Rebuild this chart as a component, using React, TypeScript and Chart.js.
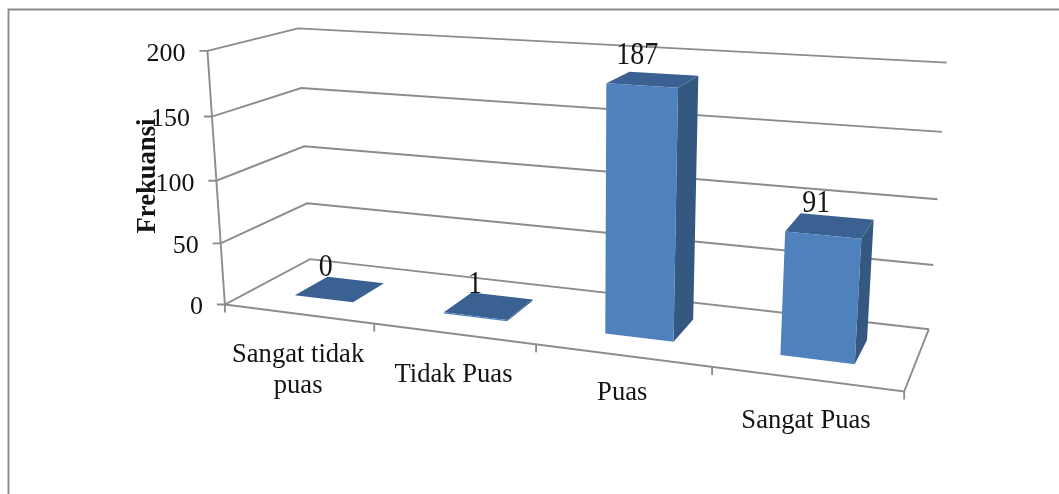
import React, { useEffect, useRef } from "react";
import { Chart, registerables } from "chart.js";

Chart.register(...registerables);

const categories = [["Sangat tidak", "puas"], ["Tidak Puas"], ["Puas"], ["Sangat Puas"]];
const frequencies = [0, 1, 187, 91];
const axisTitle = "Frekuansi";
const axisMax = 200;
const axisStep = 50;

// Screen positions of the 3D box corners, as [u, height, depth] -> [x, y].
const boxCorners: [number, number, number, number, number][] = [
  [0, 0, 0, 225, 304.7],
  [1, 0, 0, 904, 391.7],
  [0, 0, 1, 310, 259],
  [1, 0, 1, 929, 329],
  [0, 1, 0, 207.5, 50.5],
  [0, 1, 1, 298, 28.7],
  [1, 1, 1, 946.7, 62.7],
];

const BAR_DEPTH_NEAR = 0.3;
const BAR_DEPTH_FAR = 0.7;
const LABEL_NUDGE = [0, 0, -3, 1];

const GRID = "#8c8c8c";
const FRONT = "#4f81bd";
const TOP = "#3a6191";
const SIDE = "#34587f";
const INK = "#141414";
const SERIF = '"Liberation Serif", serif';

// Least-squares camera matrix from the box corners (linear DLT, scaled coordinates).
function solveCamera(): number[] {
  const n = 11;
  const A: number[][] = Array.from({ length: n }, () => new Array(n + 1).fill(0));
  const addRow = (row: number[], rhs: number) => {
    for (let i = 0; i < n; i++) {
      for (let j = 0; j < n; j++) A[i][j] += row[i] * row[j];
      A[i][n] += row[i] * rhs;
    }
  };
  for (const [u, v, d, px, py] of boxCorners) {
    const x = px / 1000;
    const y = py / 1000;
    addRow([u, v, d, 1, 0, 0, 0, 0, -x * u, -x * v, -x * d], x);
    addRow([0, 0, 0, 0, u, v, d, 1, -y * u, -y * v, -y * d], y);
  }
  for (let i = 0; i < n; i++) A[i][i] += 1e-10;
  for (let c = 0; c < n; c++) {
    let p = c;
    for (let r = c + 1; r < n; r++) if (Math.abs(A[r][c]) > Math.abs(A[p][c])) p = r;
    [A[c], A[p]] = [A[p], A[c]];
    for (let r = 0; r < n; r++) {
      if (r === c) continue;
      const f = A[r][c] / A[c][c];
      for (let k = c; k <= n; k++) A[r][k] -= f * A[c][k];
    }
  }
  return A.map((row, i) => row[n] / row[i]);
}

const cam = solveCamera();

function project(u: number, v: number, d: number): [number, number] {
  const w = cam[8] * u + cam[9] * v + cam[10] * d + 1;
  return [
    (1000 * (cam[0] * u + cam[1] * v + cam[2] * d + cam[3])) / w,
    (1000 * (cam[4] * u + cam[5] * v + cam[6] * d + cam[7])) / w,
  ];
}

function line(ctx: CanvasRenderingContext2D, pts: [number, number][]) {
  ctx.beginPath();
  pts.forEach((p, i) => (i ? ctx.lineTo(p[0], p[1]) : ctx.moveTo(p[0], p[1])));
  ctx.stroke();
}

function face(ctx: CanvasRenderingContext2D, pts: [number, number][], color: string) {
  ctx.beginPath();
  pts.forEach((p, i) => (i ? ctx.lineTo(p[0], p[1]) : ctx.moveTo(p[0], p[1])));
  ctx.closePath();
  ctx.fillStyle = color;
  ctx.fill();
}

const heightOf = (chart: any, value: number) => {
  const { top, bottom } = chart.chartArea;
  return (bottom - chart.scales.y.getPixelForValue(value)) / (bottom - top);
};

// Draws the outer frame, the gridded walls, the floor and the axis ticks.
const boxPlugin = {
  id: "box3d",
  beforeDatasetsDraw(chart: any) {
    const ctx: CanvasRenderingContext2D = chart.ctx;
    ctx.save();
    ctx.strokeStyle = GRID;
    ctx.lineWidth = 1.9;
    line(ctx, [[8.5, 494], [8.5, 9.5], [1059, 9.5]]);
    for (const tick of chart.scales.y.ticks) {
      const v = heightOf(chart, tick.value);
      const front = project(0, v, 0);
      line(ctx, [[front[0] - 8, front[1]], front, project(0, v, 1), project(1, v, 1)]);
    }
    line(ctx, [project(0, 0, 0), project(0, 1, 0)]);
    line(ctx, [project(0, 0, 0), project(1, 0, 0), project(1, 0, 1)]);
    for (let i = 0; i <= categories.length; i++) {
      const p = project(i / categories.length, 0, 0);
      line(ctx, [p, [p[0], p[1] + 8]]);
    }
    ctx.restore();
  },
  afterDatasetsDraw(chart: any) {
    const ctx: CanvasRenderingContext2D = chart.ctx;
    const area = chart.chartArea;
    const bars = chart.getDatasetMeta(0).data;
    ctx.save();
    bars.forEach((bar: any, i: number) => {
      const u0 = (bar.x - bar.width / 2 - area.left) / area.width;
      const u1 = (bar.x + bar.width / 2 - area.left) / area.width;
      const v = heightOf(chart, frequencies[i]);
      const n = BAR_DEPTH_NEAR;
      const f = BAR_DEPTH_FAR;
      face(ctx, [project(u1, 0, n), project(u1, 0, f), project(u1, v, f), project(u1, v, n)], SIDE);
      face(ctx, [project(u0, v, n), project(u1, v, n), project(u1, v, f), project(u0, v, f)], TOP);
      face(ctx, [project(u0, 0, n), project(u1, 0, n), project(u1, v, n), project(u0, v, n)], FRONT);

      // Value label above the near left corner of the bar top.
      const corner = project(u0, v, n);
      ctx.save();
      ctx.translate(corner[0] + 31, corner[1] - 28);
      ctx.scale(1, 1.15);
      ctx.font = `28px ${SERIF}`;
      ctx.fillStyle = INK;
      ctx.textAlign = "center";
      ctx.textBaseline = "middle";
      ctx.fillText(String(frequencies[i]), 0, 0);
      ctx.restore();
    });

    ctx.fillStyle = INK;
    ctx.font = `26px ${SERIF}`;
    ctx.textBaseline = "middle";

    // Value axis labels follow the slanted front edge.
    ctx.textAlign = "right";
    for (const tick of chart.scales.y.ticks) {
      const p = project(0, heightOf(chart, tick.value), 0);
      ctx.fillText(String(tick.value), p[0] - 22, p[1] + 3);
    }

    // Category labels sit below the sloping front edge of the floor.
    ctx.textAlign = "center";
    ctx.font = `26.6px ${SERIF}`;
    bars.forEach((bar: any, i: number) => {
      const u = (bar.x - area.left) / area.width;
      const p = project(u, 0, 0);
      categories[i].forEach((text, k) => {
        ctx.fillText(text, p[0], p[1] + 41 + LABEL_NUDGE[i] + k * 31);
      });
    });

    ctx.translate(148, 176);
    ctx.rotate(-Math.PI / 2);
    ctx.font = `bold 26.6px ${SERIF}`;
    ctx.fillText(axisTitle, 0, 0);
    ctx.restore();
  },
};

export default function App() {
  const ref = useRef<HTMLCanvasElement>(null);
  useEffect(() => {
    const chart = new Chart(ref.current!, {
      type: "bar",
      data: {
        labels: categories.map((c) => c.join(" ")),
        datasets: [
          {
            data: frequencies,
            backgroundColor: "transparent",
            categoryPercentage: 1,
            barPercentage: 0.4,
          },
        ],
      },
      options: {
        animation: false,
        responsive: false,
        layout: { padding: 0 },
        plugins: { legend: { display: false }, tooltip: { enabled: false } },
        scales: {
          x: { display: false },
          y: { display: false, min: 0, max: axisMax, ticks: { stepSize: axisStep } },
        },
      },
      plugins: [boxPlugin],
    });
    return () => chart.destroy();
  }, []);
  return (
    <canvas
      ref={ref}
      width={1059}
      height={494}
      style={{ position: "fixed", left: 0, top: 0, display: "block", background: "#fff" }}
    />
  );
}
